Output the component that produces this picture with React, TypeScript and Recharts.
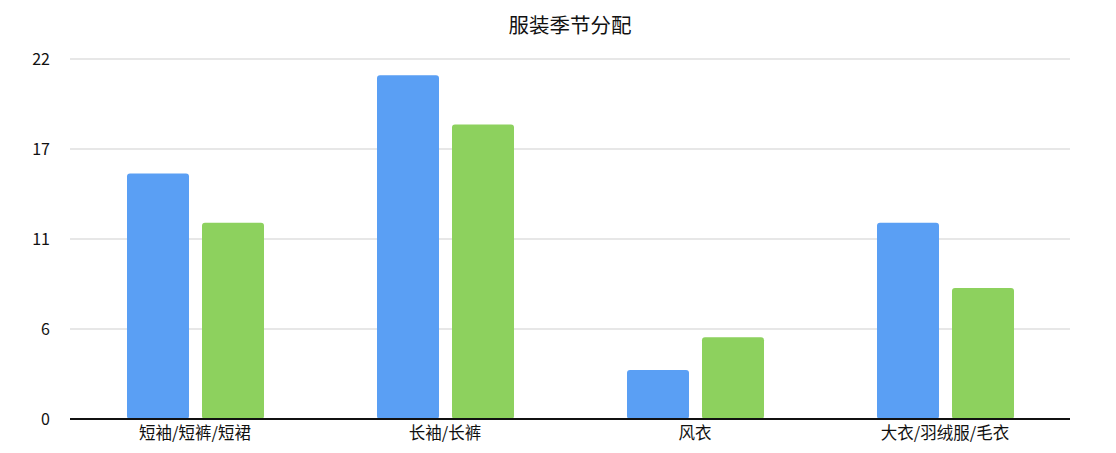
import React from "react";
import { BarChart, Bar, XAxis, YAxis, CartesianGrid } from "recharts";

const categories = ["短袖/短裤/短裙", "长袖/长裤", "风衣", "大衣/羽绒服/毛衣"];
const seriesA = [15, 21, 3, 12];
const seriesB = [12, 18, 5, 8];
const yTicks = [0, 5.5, 11, 16.5, 22];

const data = categories.map((name, i) => ({ name, a: seriesA[i], b: seriesB[i] }));

const FONT = '"Noto Sans CJK SC", "Liberation Sans", sans-serif';

export default function App() {
  return (
    <div style={{ position: "absolute", left: 0, top: 0, width: 1116, height: 453, background: "#fff", fontFamily: FONT }}>
      <div
        style={{
          position: "absolute",
          left: 70,
          width: 1000,
          top: 9,
          textAlign: "center",
          fontSize: 20.5,
          color: "#111",
          lineHeight: "30px",
        }}
      >
        服装季节分配
      </div>
      <BarChart
        width={1116}
        height={453}
        data={data}
        margin={{ top: 59, right: 46, bottom: 0, left: 0 }}
        barSize={62}
        barGap={13}
      >
        <CartesianGrid horizontal vertical={false} stroke="#cfcfcf" strokeWidth={1} />
        <XAxis
          dataKey="name"
          height={34}
          tickLine={false}
          tickSize={0}
          tickMargin={8}
          axisLine={{ stroke: "#111", strokeWidth: 2 }}
          tick={{ fill: "#111", fontSize: 16.5, fontFamily: FONT }}
          interval={0}
        />
        <YAxis
          width={70}
          domain={[0, 22]}
          ticks={yTicks}
          tickFormatter={(v: number) => String(Math.round(v))}
          axisLine={false}
          tickLine={false}
          tickSize={0}
          tickMargin={20}
          tick={{ fill: "#111", fontSize: 16, fontFamily: FONT }}
        />
        <Bar dataKey="a" fill="#5a9ff4" radius={[3, 3, 3, 3]} isAnimationActive={false} />
        <Bar dataKey="b" fill="#8dd15e" radius={[3, 3, 3, 3]} isAnimationActive={false} />
      </BarChart>
    </div>
  );
}
